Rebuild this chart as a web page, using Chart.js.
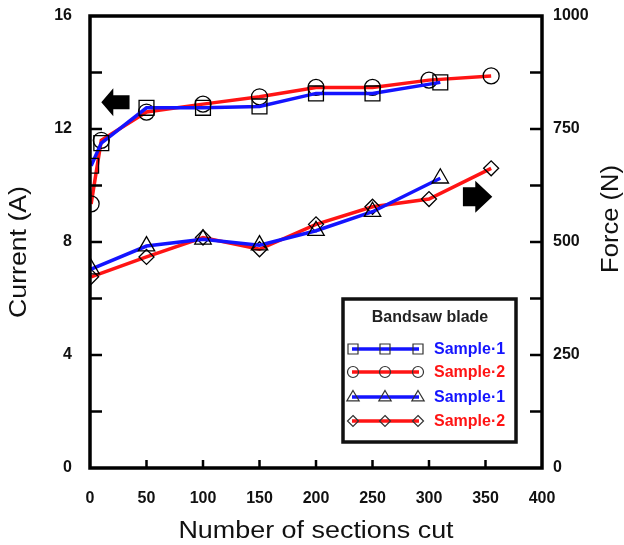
<!DOCTYPE html>
<html>
<head>
<meta charset="utf-8">
<script src="https://cdn.jsdelivr.net/npm/chart.js@4/dist/chart.umd.min.js"></script>
<style>
  body { margin: 0; background: #fff; }
  #wrap { width: 624px; height: 545px; }
</style>
</head>
<body>
<div id="wrap"><canvas id="chart" width="624" height="545"></canvas></div>
<script>
// data
const sectionsCurrent1 = [1, 10, 50, 100, 150, 200, 250, 310];
const current1 = [10.7, 11.5, 12.75, 12.75, 12.8, 13.26, 13.26, 13.65];
const sectionsCurrent2 = [1, 10, 50, 100, 150, 200, 250, 300, 355];
const current2 = [9.35, 11.6, 12.6, 12.88, 13.14, 13.47, 13.47, 13.73, 13.88];
const sectionsForce1 = [1, 50, 100, 150, 200, 250, 310];
const force1 = [440, 491, 506, 493, 525, 567, 641];
const sectionsForce2 = [1, 50, 100, 150, 200, 250, 300, 355];
const force2 = [423, 467, 510, 484, 539, 578, 595, 663];

const xTicks = [0, 50, 100, 150, 200, 250, 300, 350, 400];
const currentTicks = [0, 4, 8, 12, 16];
const forceTicks = [0, 250, 500, 750, 1000];
const legendTitle = 'Bandsaw blade';
const legendLabels = ['Sample·1', 'Sample·2', 'Sample·1', 'Sample·2'];

const BLUE = 'rgb(20,20,255)';
const RED = 'rgb(255,20,20)';
const FONT = '"Liberation Sans", Arial, sans-serif';

const pairs = (xs, ys) => xs.map((x, i) => ({ x, y: ys[i] }));

function series(label, xs, ys, color, style, radius, axis) {
    return {
        label,
        data: pairs(xs, ys),
        yAxisID: axis,
        borderColor: color,
        borderWidth: 3.5,
        tension: 0,
        pointStyle: style,
        pointRadius: radius,
        pointBorderColor: '#000',
        pointBorderWidth: 1.3,
        pointBackgroundColor: 'rgba(0,0,0,0)',
        fill: false
    };
}

function arrow(ctx, tipX, tailX, y, shaftHalf, headHalf, headLen) {
    const dir = Math.sign(tailX - tipX);
    const baseX = tipX + dir * headLen;
    ctx.beginPath();
    ctx.moveTo(tipX, y);
    ctx.lineTo(baseX, y - headHalf);
    ctx.lineTo(baseX, y - shaftHalf);
    ctx.lineTo(tailX, y - shaftHalf);
    ctx.lineTo(tailX, y + shaftHalf);
    ctx.lineTo(baseX, y + shaftHalf);
    ctx.lineTo(baseX, y + headHalf);
    ctx.closePath();
    ctx.fill();
}

// small hollow legend markers
function marker(ctx, style, x, y, r) {
    ctx.beginPath();
    if (style === 'rect') {
        ctx.rect(x - r, y - r, 2 * r, 2 * r);
    } else if (style === 'circle') {
        ctx.arc(x, y, r, 0, Math.PI * 2);
    } else if (style === 'triangle') {
        ctx.moveTo(x, y - r);
        ctx.lineTo(x + r * 0.95, y + r * 0.6);
        ctx.lineTo(x - r * 0.95, y + r * 0.6);
        ctx.closePath();
    } else {
        ctx.moveTo(x, y - r);
        ctx.lineTo(x + r, y);
        ctx.lineTo(x, y + r);
        ctx.lineTo(x - r, y);
        ctx.closePath();
    }
    ctx.stroke();
}

function stretchedText(ctx, text, x, y, rot, sx) {
    ctx.save();
    ctx.translate(x, y);
    ctx.rotate(rot);
    ctx.scale(sx, 1);
    ctx.fillText(text, 0, 0);
    ctx.restore();
}

const decor = {
    id: 'decor',
    afterDatasetsDraw(chart) {
        const ctx = chart.ctx;
        const a = chart.chartArea;
        const sx = chart.scales.x, sy = chart.scales.y, sf = chart.scales.y1;
        ctx.save();

        // inward tick marks
        ctx.strokeStyle = '#000';
        ctx.lineWidth = 2.5;
        ctx.beginPath();
        for (let v = 2; v < 16; v += 2) {
            const p = sy.getPixelForValue(v);
            ctx.moveTo(a.left, p); ctx.lineTo(a.left + 12, p);
        }
        for (let v = 125; v < 1000; v += 125) {
            const p = sf.getPixelForValue(v);
            ctx.moveTo(a.right, p); ctx.lineTo(a.right - 12, p);
        }
        xTicks.slice(1, -1).forEach(v => {
            const p = sx.getPixelForValue(v);
            ctx.moveTo(p, a.bottom); ctx.lineTo(p, a.bottom - 8);
        });
        ctx.stroke();

        // frame
        ctx.lineWidth = 3.5;
        ctx.strokeRect(a.left, a.top, a.right - a.left, a.bottom - a.top);

        // direction arrows
        ctx.fillStyle = '#000';
        arrow(ctx, sx.getPixelForValue(10), sx.getPixelForValue(35), sy.getPixelForValue(12.95), 7, 14, 12);
        arrow(ctx, sx.getPixelForValue(356), sx.getPixelForValue(330), sy.getPixelForValue(9.6), 9.5, 16, 17);

        // axis titles
        ctx.fillStyle = '#111';
        ctx.font = '23px ' + FONT;
        ctx.textAlign = 'center';
        ctx.textBaseline = 'alphabetic';
        stretchedText(ctx, 'Number of sections cut', (a.left + a.right) / 2, 538, 0, 1.17);
        stretchedText(ctx, 'Current (A)', 26, 252, -Math.PI / 2, 1.16);
        stretchedText(ctx, 'Force (N)', 618, 219, -Math.PI / 2, 1.11);

        // legend box
        ctx.fillStyle = '#fff';
        ctx.fillRect(343, 299, 173, 143);
        ctx.lineWidth = 3.5;
        ctx.strokeStyle = '#111';
        ctx.strokeRect(343, 299, 173, 143);
        ctx.fillStyle = '#222';
        ctx.font = 'bold 16px ' + FONT;
        ctx.textBaseline = 'middle';
        ctx.fillText(legendTitle, 430, 318);

        const rows = [349, 372, 397, 421];
        const styles = [['rect', 5], ['circle', 5.5], ['triangle', 6.5], ['diamond', 5.5]];
        const colors = [BLUE, RED, BLUE, RED];
        rows.forEach((ry, i) => {
            ctx.strokeStyle = colors[i];
            ctx.lineWidth = 3.5;
            ctx.beginPath();
            ctx.moveTo(352, ry); ctx.lineTo(419, ry);
            ctx.stroke();
            ctx.strokeStyle = '#333';
            ctx.lineWidth = 1.2;
            [353, 385, 418].forEach(mx => marker(ctx, styles[i][0], mx, ry, styles[i][1]));
            ctx.fillStyle = colors[i];
            ctx.font = 'bold 16px ' + FONT;
            ctx.textAlign = 'left';
            ctx.fillText(legendLabels[i], 434, ry + 1);
        });

        ctx.restore();
    }
};

const tickFont = { family: FONT, size: 16, weight: 'bold' };
const plainLabel = v => String(v);
const noVertPad = s => { s.paddingTop = 0; s.paddingBottom = 0; };

new Chart(document.getElementById('chart'), {
    type: 'line',
    data: {
        datasets: [
            series('Current Sample 1', sectionsCurrent1, current1, BLUE, 'rect', 10.5, 'y'),
            series('Current Sample 2', sectionsCurrent2, current2, RED, 'circle', 8, 'y'),
            series('Force Sample 1', sectionsForce1, force1, BLUE, 'triangle', 9.5, 'y1'),
            series('Force Sample 2', sectionsForce2, force2, RED, 'rectRot', 7.5, 'y1')
        ]
    },
    options: {
        responsive: false,
        animation: false,
        layout: { padding: { top: 16, left: 0, right: 0, bottom: 0 } },
        plugins: { legend: { display: false }, tooltip: { enabled: false } },
        scales: {
            x: {
                type: 'linear',
                min: 0, max: 400,
                afterBuildTicks: s => { s.ticks = xTicks.map(v => ({ value: v })); },
                afterFit: s => { s.height = 77; },
                ticks: { font: tickFont, color: '#111', padding: 21, autoSkip: false, maxRotation: 0, callback: plainLabel },
                grid: { display: false, drawTicks: false },
                border: { display: false }
            },
            y: {
                position: 'left',
                min: 0, max: 16,
                afterBuildTicks: s => { s.ticks = currentTicks.map(v => ({ value: v })); },
                afterFit: s => { s.width = 90; noVertPad(s); },
                ticks: { font: tickFont, color: '#111', padding: 18, callback: plainLabel },
                grid: { display: false, drawTicks: false },
                border: { display: false }
            },
            y1: {
                position: 'right',
                min: 0, max: 1000,
                afterBuildTicks: s => { s.ticks = forceTicks.map(v => ({ value: v })); },
                afterFit: s => { s.width = 82; noVertPad(s); },
                ticks: { font: tickFont, color: '#111', padding: 11, callback: plainLabel },
                grid: { display: false, drawTicks: false },
                border: { display: false }
            }
        }
    },
    plugins: [decor]
});
</script>
</body>
</html>
